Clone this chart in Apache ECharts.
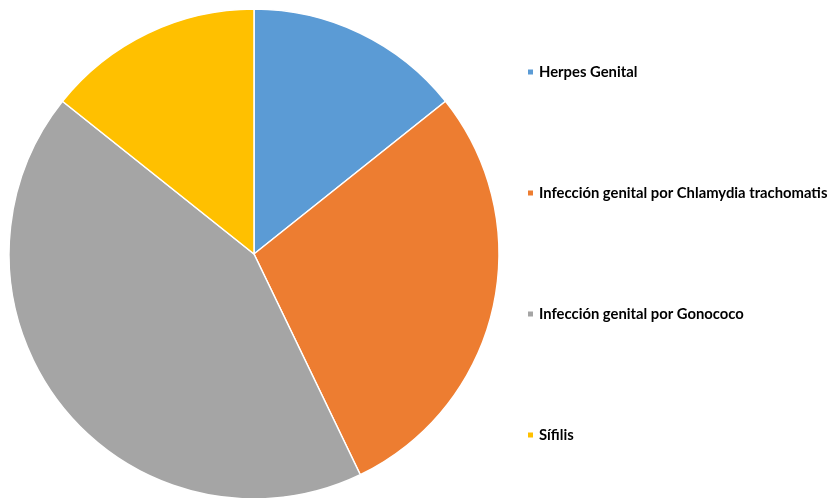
<!DOCTYPE html>
<html>
<head>
<meta charset="utf-8">
<script src="https://cdn.jsdelivr.net/npm/echarts@6/dist/echarts.min.js"></script>
<style>
  html, body { margin: 0; padding: 0; background: #ffffff; }
  #chart { width: 828px; height: 498px; }
</style>
</head>
<body>
<div id="chart"></div>
<script>
// Infecciones de transmisión sexual: casos por tipo
const categories = [
  'Herpes Genital',
  'Infección genital por Chlamydia trachomatis',
  'Infección genital por Gonococo',
  'Sífilis'
];
const values = [1, 2, 3, 1];
const colors = ['#5B9BD5', '#ED7D31', '#A5A5A5', '#FFC000'];

const chart = echarts.init(document.getElementById('chart'), null, { renderer: 'canvas' });

chart.setOption({
  animation: false,
  color: colors,
  legend: {
    orient: 'vertical',
    left: 526,
    top: 64,
    padding: 0,
    itemWidth: 7,
    itemHeight: 7,
    itemGap: 105,
    icon: 'rect',
    textStyle: {
      fontFamily: 'Lato, "Open Sans", sans-serif',
      fontWeight: 'bold',
      fontSize: 14.8,
      lineHeight: 16,
      color: '#000000'
    },
    data: categories
  },
  series: [{
    type: 'pie',
    center: [254, 254],
    radius: [0, 245],
    startAngle: 90,
    clockwise: true,
    label: { show: false },
    labelLine: { show: false },
    emphasis: { disabled: true },
    itemStyle: { borderColor: '#ffffff', borderWidth: 1.5 },
    data: categories.map((name, i) => ({ name, value: values[i] }))
  }]
});
</script>
</body>
</html>
